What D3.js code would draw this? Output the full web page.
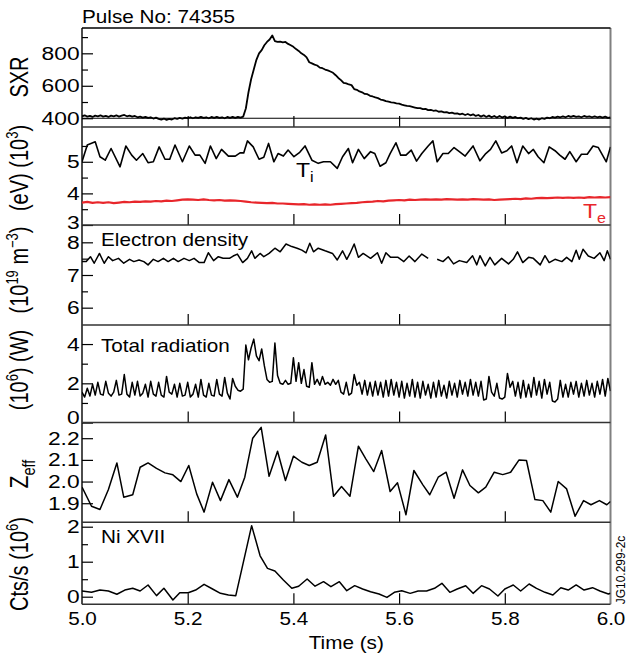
<!DOCTYPE html>
<html><head><meta charset="utf-8">
<script src="https://cdn.jsdelivr.net/npm/d3@7"></script>
<style>
body{margin:0;background:#fff}
text{font-family:"Liberation Sans",Arial,Helvetica,sans-serif;fill:#000}
</style>
</head><body>
<svg id="c" width="627" height="657"></svg>
<script>
// ---------------- DATA ----------------
const timeTicks = [5.0, 5.2, 5.4, 5.6, 5.8, 6.0];
const innerTimeTicks = [5.2, 5.4, 5.6, 5.8];
const pulseTitle = "Pulse No: 74355";

// SXR sampled every 5 ms from 5.000 s
const sxrStart = 5.0, sxrStep = 0.005;
const sxrValues = [
412,418,410,415,408,416,412,418,410,414,
408,416,412,418,410,416,420,412,416,410,
414,406,410,404,408,402,406,398,404,396,
392,398,390,396,392,400,396,402,398,404,
400,406,400,406,402,408,402,406,400,408,
402,408,402,406,400,408,402,408,402,408,
404,410,460,560,640,700,760,800,820,850,
870,885,910,875,870,872,868,870,858,850,
840,826,815,800,790,775,745,738,730,725,
712,708,700,695,688,680,665,648,635,618,
615,608,604,580,575,565,560,550,548,538,
534,528,524,515,512,505,502,498,496,492,
490,484,480,476,474,470,466,462,462,456,
458,450,452,446,448,440,442,436,438,432,
434,428,430,424,428,420,426,418,424,414,
420,410,418,408,416,406,414,404,414,404,
412,402,410,402,408,400,404,396,402,394,
400,392,398,392,400,396,404,400,408,404,
410,406,412,406,414,408,414,408,412,406,
414,408,412,406,412,406,410,404,410,402,
406];
const sxrTicks = [400, 600, 800];
const sxrMinor = [500, 700, 900];
const sxrRef = 400;

// Ion temperature (10^3 eV)
const tiTime = [5.000,5.010,5.025,5.034,5.044,5.055,5.072,5.083,5.094,5.103,
5.115,5.125,5.135,5.146,5.157,5.166,5.176,5.190,5.203,5.214,
5.223,5.233,5.243,5.254,5.264,5.277,5.290,5.299,5.306,5.313,
5.324,5.335,5.344,5.353,5.363,5.371,5.381,5.390,5.401,5.412,
5.422,5.435,5.447,5.457,5.470,5.483,5.493,5.504,5.512,5.523,
5.534,5.546,5.554,5.564,5.575,5.583,5.594,5.603,5.613,5.623,
5.633,5.643,5.655,5.664,5.672,5.683,5.693,5.704,5.714,5.725,
5.740,5.753,5.764,5.773,5.783,5.794,5.804,5.813,5.823,5.834,
5.845,5.854,5.863,5.874,5.884,5.895,5.904,5.914,5.923,5.935,
5.945,5.956,5.967,5.977,5.992,6.000];
const tiValues = [5.00,5.53,5.63,5.16,5.05,5.42,4.84,5.50,5.21,5.05,
5.26,4.97,5.00,5.47,5.08,5.08,5.53,5.00,5.50,5.21,
5.21,4.95,5.50,5.10,5.39,5.18,5.18,5.28,5.28,5.66,
5.47,5.08,5.14,5.58,5.00,5.26,5.18,5.37,5.16,5.30,
5.50,5.05,4.95,5.00,5.00,4.79,5.16,5.42,4.97,5.39,
5.10,5.32,5.26,4.86,4.97,5.26,5.60,5.21,5.21,5.37,
5.02,5.26,5.50,5.66,5.00,5.26,5.26,5.45,5.32,5.18,
5.50,5.03,5.26,5.39,5.66,5.28,5.35,5.50,4.97,5.50,
5.26,5.39,5.16,4.97,5.47,5.35,5.21,5.08,5.32,5.00,
5.24,5.24,5.50,5.45,5.00,5.47];

// Electron temperature (10^3 eV), every 10 ms from 5.00 s
const teStart = 5.0, teStep = 0.01;
const teValues = [3.71,3.73,3.70,3.72,3.70,3.72,3.69,3.71,3.73,3.72,
3.74,3.73,3.75,3.74,3.76,3.75,3.77,3.76,3.78,3.80,
3.81,3.80,3.79,3.81,3.79,3.78,3.79,3.77,3.78,3.77,
3.76,3.74,3.72,3.71,3.70,3.69,3.70,3.68,3.68,3.67,
3.66,3.65,3.66,3.64,3.65,3.64,3.65,3.64,3.66,3.67,
3.68,3.69,3.70,3.72,3.73,3.74,3.76,3.75,3.77,3.78,
3.79,3.78,3.80,3.79,3.80,3.81,3.80,3.81,3.80,3.82,
3.81,3.80,3.81,3.80,3.82,3.81,3.80,3.81,3.79,3.80,
3.81,3.82,3.83,3.82,3.84,3.83,3.85,3.86,3.85,3.86,
3.87,3.86,3.87,3.86,3.87,3.86,3.88,3.87,3.88,3.87,
3.88];
const tempTicks = [3, 4, 5];
const tempMinor = [3.5, 4.5, 5.5];

// Electron density (10^19 m^-3)
const neTime = [5.000,5.008,5.016,5.023,5.033,5.042,5.050,5.058,5.069,5.079,
5.090,5.098,5.108,5.117,5.125,5.135,5.144,5.154,5.163,5.173,
5.182,5.193,5.203,5.212,5.222,5.231,5.239,5.249,5.258,5.267,
5.279,5.286,5.294,5.304,5.313,5.321,5.327,5.337,5.344,5.354,
5.365,5.375,5.386,5.397,5.407,5.416,5.424,5.431,5.438,5.447,
5.460,5.474,5.483,5.493,5.501,5.507,5.515,5.523,5.532,5.546,
5.559,5.567,5.575,5.584,5.598,5.609,5.619,5.630,5.643,5.655,
5.663,5.672,5.683,5.693,5.703,5.714,5.728,5.739,5.747,5.753,
5.763,5.772,5.781,5.794,5.807,5.816,5.824,5.834,5.845,5.854,
5.867,5.876,5.884,5.895,5.908,5.917,5.927,5.935,5.941,5.948,
5.958,5.969,5.980,5.988,5.994,6.000];
const neValues = [7.41,7.41,7.56,7.36,7.66,7.36,7.56,7.44,7.51,7.36,
7.48,7.41,7.46,7.41,7.31,7.48,7.41,7.51,7.41,7.51,
7.41,7.51,7.44,7.51,7.38,7.38,7.68,7.44,7.56,7.51,
7.51,7.58,7.64,7.38,7.51,7.74,7.51,7.66,7.56,7.66,
7.82,7.71,7.95,7.87,7.82,7.76,7.68,7.97,7.71,7.82,
7.74,7.66,7.46,7.74,7.48,7.66,7.95,7.54,7.66,7.51,
7.68,7.36,7.68,7.54,7.54,7.41,7.58,7.41,7.64,7.51,
null,7.48,7.41,7.56,7.34,7.44,7.38,7.59,7.31,7.59,
7.28,7.54,7.31,7.51,7.34,7.48,7.71,7.38,7.54,7.51,
7.31,7.59,7.38,7.48,7.41,7.54,7.41,7.76,7.48,7.79,
7.58,7.51,7.68,7.44,7.74,7.48];
const neTicks = [6, 7, 8];
const neMinor = [6.5, 7.5];

// Total radiation (10^6 W), every 5 ms from 5.000 s
const radStart = 5.0, radStep = 0.005;
const radValues = [
1.55,1.30,1.75,1.35,1.95,1.40,2.05,1.45,1.40,2.10,
1.50,1.35,1.55,2.15,1.40,1.45,2.45,1.45,1.30,2.05,
1.40,2.10,1.35,1.50,1.95,1.30,2.10,1.45,1.35,2.05,
1.40,1.30,2.35,1.55,1.45,1.95,1.30,2.00,1.35,1.40,
2.05,1.30,1.45,1.95,1.30,2.20,1.40,1.30,2.00,1.40,
1.35,2.20,1.45,1.35,2.30,1.50,1.20,2.25,1.85,1.65,
1.60,1.70,3.95,3.20,3.80,4.25,3.40,3.15,3.75,2.90,
2.20,2.05,2.10,4.05,2.40,2.00,1.95,2.15,1.95,2.00,
3.30,2.10,3.05,2.00,2.70,1.85,1.80,3.05,1.95,2.20,
1.90,2.35,1.95,2.05,1.90,2.20,1.95,2.15,1.55,1.45,
2.05,1.40,1.50,2.45,1.90,2.05,1.45,2.15,1.40,2.05,
1.35,2.10,1.40,2.05,1.30,2.15,1.35,2.20,1.40,2.05,
1.30,2.10,1.25,2.00,1.35,2.20,1.30,2.05,1.25,2.10,
1.40,1.95,1.25,2.05,1.30,2.15,1.35,1.90,1.25,2.10,
1.40,2.00,1.30,2.15,1.45,2.05,1.35,2.20,1.40,2.05,
1.35,2.10,1.15,1.20,2.35,1.55,1.35,2.00,1.25,1.20,
1.30,2.50,1.80,2.10,1.35,2.05,1.25,2.15,1.30,1.95,
1.30,2.30,1.40,2.10,1.25,2.20,1.45,2.05,1.10,1.05,
1.20,2.15,1.30,1.95,1.30,2.05,1.45,2.10,1.30,2.00,
1.35,2.15,1.40,2.00,1.30,2.10,1.45,2.20,1.35,2.25,
1.60];
const radTicks = [0, 2, 4];
const radMinor = [1, 3];

// Zeff
const zeffTime = [5.000,5.018,5.034,5.050,5.066,5.079,5.096,5.110,5.125,5.141,
5.157,5.172,5.187,5.202,5.217,5.231,5.247,5.262,5.278,5.294,
5.308,5.323,5.339,5.354,5.370,5.385,5.400,5.416,5.430,5.445,
5.461,5.476,5.491,5.507,5.523,5.537,5.552,5.567,5.583,5.597,
5.613,5.628,5.645,5.658,5.674,5.689,5.704,5.720,5.734,5.750,
5.764,5.780,5.796,5.811,5.827,5.841,5.857,5.872,5.887,5.901,
5.917,5.933,5.949,5.963,5.979,5.993,6.000];
const zeffValues = [1.974,1.886,1.871,1.963,2.086,1.928,1.939,2.066,2.086,2.061,
2.040,2.031,2.000,2.074,1.943,1.859,1.997,1.912,2.009,1.928,
2.020,2.200,2.250,2.024,2.140,2.005,2.117,2.089,2.074,2.089,
2.215,1.932,1.977,1.932,2.163,2.105,2.046,2.143,1.954,1.994,
1.847,2.051,1.985,1.939,2.020,2.043,1.923,2.054,1.982,1.948,
1.974,2.043,2.032,2.043,2.100,2.097,1.917,1.912,1.859,2.000,
1.966,1.840,1.912,1.893,1.912,1.893,1.908];
const zeffTicks = [1.9, 2.0, 2.1, 2.2];

// Ni XVII (10^6 counts/s)
const niTime = [5.000,5.018,5.034,5.050,5.066,5.081,5.096,5.110,5.125,5.141,
5.155,5.172,5.185,5.201,5.215,5.231,5.247,5.262,5.277,5.291,
5.321,5.337,5.351,5.365,5.381,5.397,5.410,5.426,5.441,5.457,
5.471,5.487,5.501,5.516,5.531,5.546,5.562,5.577,5.591,5.605,
5.621,5.636,5.652,5.667,5.681,5.696,5.710,5.726,5.740,5.756,
5.771,5.787,5.800,5.816,5.830,5.846,5.860,5.876,5.891,5.906,
5.920,5.935,5.950,5.966,5.980,5.996,6.000];
const niValues = [0.163,0.125,0.19,0.163,0.07,0.19,0.24,0.163,0.335,0.03,
0.24,-0.094,0.115,0.115,0.19,0.353,0.22,0.096,0.048,0.03,
2.03,1.17,0.81,0.734,0.477,0.24,0.30,0.506,0.30,0.43,
0.286,0.43,0.172,0.315,0.22,0.143,0.077,-0.02,0.125,0.172,
0.096,0.163,0.163,0.24,0.382,0.125,0.22,0.315,0.096,0.315,
0.22,0.02,0.22,0.335,0.163,0.363,0.24,0.125,0.048,0.258,
0.19,0.335,0.19,0.258,0.163,0.077,0.10];
const niTicks = [0, 1, 2];
const niMinor = [0.5, 1.5];

// ---------------- LAYOUT ----------------
const svg = d3.select("#c");
const FONT = '"Liberation Sans",Arial,Helvetica,sans-serif';
const SX = 1.15;   // horizontal text stretch seen in the reference
const xLeft = 82, xRight = 610.5;
const x = d3.scaleLinear().domain([5, 6]).range([xLeft, xRight]);

const panels = [
  {key:"sxr",  top:28,    bottom:127,   domain:[346,956],     major:sxrTicks,  minor:sxrMinor, fmt:d3.format("d"), edgeShift:0},
  {key:"temp", top:127,   bottom:225,   domain:[3,6.1],       major:tempTicks, minor:tempMinor, fmt:d3.format("d"), edgeShift:-3},
  {key:"ne",   top:225,   bottom:325,   domain:[5.47,8.53],   major:neTicks,   minor:neMinor, fmt:d3.format("d"), edgeShift:0},
  {key:"rad",  top:325,   bottom:422.6, domain:[0,4.97],      major:radTicks,  minor:radMinor, fmt:d3.format("d"), edgeShift:-5},
  {key:"zeff", top:422.6, bottom:522.3, domain:[1.812,2.272], major:zeffTicks, minor:[], fmt:d3.format(".1f"), edgeShift:0},
  {key:"ni",   top:522.3, bottom:604.3, domain:[-0.217,2.126],major:niTicks,   minor:niMinor, fmt:d3.format("d"), edgeShift:0}
];
panels.forEach(p => p.y = d3.scaleLinear().domain(p.domain).range([p.bottom, p.top]));
const P = Object.fromEntries(panels.map(p => [p.key, p]));

const defs = svg.append("defs");
panels.forEach(p => {
  defs.append("clipPath").attr("id", "clip-" + p.key)
    .append("rect").attr("x", xLeft).attr("y", p.top).attr("width", xRight - xLeft).attr("height", p.bottom - p.top);
});

// axes / ticks
panels.forEach(p => {
  const gy = svg.append("g").attr("transform", `translate(${xLeft},0)`);
  gy.call(d3.axisLeft(p.y).tickValues(p.major).tickSize(-11).tickPadding(2).tickFormat(p.fmt));
  gy.select(".domain").remove();
  gy.selectAll(".tick line").attr("stroke", "#000").attr("stroke-width", 1.2);
  gy.selectAll(".tick text").attr("font-family", FONT).attr("font-size", 19).attr("fill", "#000")
    .attr("transform", "scale(1.2,1)")
    .attr("y", d => d === p.domain[0] ? p.edgeShift : 0);
  if (p.minor.length) {
    const gm = svg.append("g").attr("transform", `translate(${xLeft},0)`);
    gm.call(d3.axisLeft(p.y).tickValues(p.minor).tickSize(-6).tickFormat(""));
    gm.select(".domain").remove();
    gm.selectAll(".tick line").attr("stroke", "#000").attr("stroke-width", 1.2);
  }
  const gx = svg.append("g").attr("transform", `translate(0,${p.bottom})`);
  gx.call(d3.axisBottom(x).tickValues(innerTimeTicks).tickSize(-11).tickFormat(""));
  gx.select(".domain").remove();
  gx.selectAll(".tick line").attr("stroke", "#000").attr("stroke-width", 1.2);
});

// bottom time labels
const gxl = svg.append("g").attr("transform", `translate(0,${P.ni.bottom})`);
gxl.call(d3.axisBottom(x).tickValues(timeTicks).tickSize(0).tickPadding(8).tickFormat(d3.format(".1f")));
gxl.select(".domain").remove();
gxl.selectAll(".tick text").attr("font-family", FONT).attr("font-size", 18).attr("fill", "#000")
  .attr("transform", `scale(${SX},1)`);

function hText(px, py, str, size, anchor) {
  return svg.append("text").attr("transform", `translate(${px},${py}) scale(${SX},1)`)
    .attr("text-anchor", anchor || "start").attr("font-size", size).text(str);
}
hText((xLeft + xRight) / 2, 649, "Time (s)", 18, "middle");

// frames
const frame = svg.append("g").attr("fill", "none");
frame.append("line").attr("x1", xLeft).attr("x2", xLeft).attr("y1", P.sxr.top).attr("y2", P.ni.bottom)
  .attr("stroke", "#000").attr("stroke-width", 1.4);
frame.append("line").attr("x1", xRight).attr("x2", xRight).attr("y1", P.sxr.top).attr("y2", P.ni.bottom)
  .attr("stroke", "#808080").attr("stroke-width", 2);
frame.append("line").attr("x1", xLeft).attr("x2", xRight).attr("y1", P.sxr.top).attr("y2", P.sxr.top)
  .attr("stroke", "#000").attr("stroke-width", 1.4);
panels.forEach(p => {
  frame.append("line").attr("x1", xLeft).attr("x2", xRight).attr("y1", p.bottom).attr("y2", p.bottom)
    .attr("stroke", "#333").attr("stroke-width", 1.5);
});

// SXR reference line
svg.append("line").attr("x1", xLeft).attr("x2", xRight)
  .attr("y1", P.sxr.y(sxrRef)).attr("y2", P.sxr.y(sxrRef)).attr("stroke", "#000").attr("stroke-width", 1.2);

// ---------------- DATA LINES ----------------
function drawLine(p, ts, vs, color, width) {
  const data = ts.map((t, i) => ({t, v: vs[i]}));
  const line = d3.line().defined(d => d.v != null).x(d => x(d.t)).y(d => p.y(d.v));
  svg.append("path").datum(data).attr("clip-path", `url(#clip-${p.key})`)
    .attr("fill", "none").attr("stroke", color).attr("stroke-width", width)
    .attr("stroke-linejoin", "round").attr("d", line);
}
const sxrTime = sxrValues.map((_, i) => sxrStart + i * sxrStep);
const teTime = teValues.map((_, i) => teStart + i * teStep);
const radTime = radValues.map((_, i) => radStart + i * radStep);

drawLine(P.sxr, sxrTime, sxrValues, "#000", 1.8);
drawLine(P.temp, teTime, teValues, "#e8262b", 2.2);
drawLine(P.temp, tiTime, tiValues, "#000", 1.6);
drawLine(P.ne, neTime, neValues, "#000", 1.5);
drawLine(P.rad, radTime, radValues, "#000", 1.5);
drawLine(P.zeff, zeffTime, zeffValues, "#000", 1.5);
drawLine(P.ni, niTime, niValues, "#000", 1.5);

// ---------------- TEXT ----------------
function rich(g, parts, size) {
  const t = g.append("text").attr("font-size", size);
  let shift = 0;
  parts.forEach(pt => {
    const s = t.append("tspan").text(pt.t);
    let target = 0;
    if (pt.sup) { s.attr("font-size", size * 0.65); target = -size * 0.42; }
    if (pt.sub) { s.attr("font-size", size * 0.7); target = size * 0.25; }
    if (target !== shift) { s.attr("dy", target - shift); shift = target; }
  });
  return t;
}

hText(xLeft, 23, pulseTitle, 18);

// in-panel labels
hText(101, 246, "Electron density", 18);
hText(101, 352, "Total radiation", 18);
hText(101, 543, "Ni XVII", 18);
rich(svg.append("g").attr("transform", `translate(296,177) scale(${SX},1)`), [{t:"T"},{t:"i", sub:true}], 20);
rich(svg.append("g").attr("transform", `translate(583,218) scale(${SX},1)`), [{t:"T"},{t:"e", sub:true}], 20)
  .attr("fill", "#e8262b").selectAll("tspan").attr("fill", "#e8262b");

// rotated axis titles
function yTitle(cy, parts, size) {
  const g = svg.append("g").attr("transform", `translate(28,${cy}) scale(1.25,1) rotate(-90)`);
  rich(g, parts, size).attr("text-anchor", "middle");
}
yTitle(77, [{t:"SXR"}], 20);
yTitle(168, [{t:"(eV) (10"},{t:"3", sup:true},{t:")"}], 20);
yTitle(270, [{t:"(10"},{t:"19", sup:true},{t:" m"},{t:"−3", sup:true},{t:")"}], 20);
yTitle(370, [{t:"(10"},{t:"6", sup:true},{t:") (W)"}], 20);
yTitle(474, [{t:"Z"},{t:"eff", sub:true}], 21);
yTitle(564, [{t:"Cts/s (10"},{t:"6", sup:true},{t:")"}], 20);

// figure id
svg.append("text").attr("transform", "translate(625,570) rotate(-90)").attr("text-anchor", "middle")
  .attr("font-size", 12).text("JG10.299-2c");
</script>
</body></html>
